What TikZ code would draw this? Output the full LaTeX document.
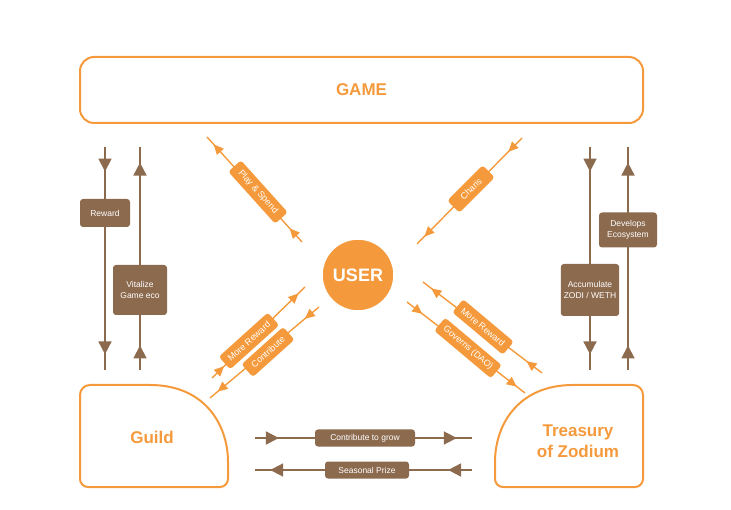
\documentclass[tikz,border=0pt]{standalone}
\usepackage{fontspec}
\setmainfont{Liberation Sans}
\usetikzlibrary{arrows.meta,decorations.markings}
\definecolor{org}{HTML}{F59A3C}
\definecolor{brn}{HTML}{8C6A4E}
\begin{document}
\begin{tikzpicture}[x=1pt,y=-1pt,
  big/.style={text=org,font=\bfseries\fontsize{17}{20}\selectfont},
  lab/.style={fill=#1,text=white,rounded corners=3pt,font=\fontsize{8.5}{10.5}\selectfont,inner sep=3pt,align=center},
  dlab/.style={lab=org,font=\fontsize{9}{10}\selectfont,minimum height=17pt},
  flow/.style={draw=#1,line width=1.8pt,postaction=decorate,decoration={markings,
     mark=at position 0.11 with {\arrow[#1]{Triangle[length=13pt,width=13pt]}},
     mark=at position 0.93 with {\arrow[#1]{Triangle[length=13pt,width=13pt]}}}},
  oflow/.style={draw=org,line width=1.4pt,postaction=decorate,decoration={markings,
     mark=at position 0.13 with {\arrow[org]{Triangle[length=10pt,width=9pt]}},
     mark=at position 0.93 with {\arrow[org]{Triangle[length=10pt,width=9pt]}}}}]
\useasboundingbox (0,0) rectangle (731,510);
% GAME
\node[draw=org,line width=2pt,rounded corners=14pt,minimum width=563pt,minimum height=66pt] (game) at (361.5,90) {};
\node[big] (gamet) at (361.5,90) {GAME};
% USER
\node[circle,fill=org,draw=white,line width=1.5pt,minimum size=72pt,text=white,font=\bfseries\fontsize{18}{20}\selectfont] (user) at (358,275) {USER};
% Guild
\draw[draw=org,line width=2pt,rounded corners=10pt] (80,440) -- (80,385) -- (140,385)
   [sharp corners] .. controls (205,385) and (228,425) .. (228,462) [rounded corners=8pt] -- (228,487) -- (80,487) -- (80,430);
\node[big] (guild) at (152,437) {Guild};
% Treasury
\draw[draw=org,line width=2pt,rounded corners=10pt] (643,440) -- (643,385) -- (583,385)
   [sharp corners] .. controls (518,385) and (495,425) .. (495,462) [rounded corners=8pt] -- (495,487) -- (643,487) -- (643,430);
\node[big,align=center,font=\bfseries\fontsize{17}{21}\selectfont] (treas) at (578,441) {Treasury\\of Zodium};
% left verticals
\coordinate (l1a) at (105,147); \coordinate (l1b) at (105,370);
\coordinate (l2a) at (140,370); \coordinate (l2b) at (140,147);
\draw[flow=brn] (l1a) -- (l1b);
\draw[flow=brn] (l2a) -- (l2b);
\node[lab=brn,minimum width=50pt,minimum height=28pt] (rew) at (105,213) {Reward};
\node[lab=brn,minimum width=54pt,minimum height=50pt] (vit) at (140,290) {Vitalize\\Game eco};
% right verticals
\coordinate (r1a) at (590,147); \coordinate (r1b) at (590,370);
\coordinate (r2a) at (628,370); \coordinate (r2b) at (628,147);
\draw[flow=brn] (r1a) -- (r1b);
\draw[flow=brn] (r2a) -- (r2b);
\node[lab=brn,minimum width=58pt,minimum height=52pt] (acc) at (590,290) {Accumulate\\ZODI / WETH};
\node[lab=brn,minimum width=58pt,minimum height=35pt] (dev) at (628,230) {Develops\\Ecosystem};
% bottom
\coordinate (b1a) at (255,438); \coordinate (b1b) at (472,438);
\coordinate (b2a) at (472,470); \coordinate (b2b) at (255,470);
\draw[flow=brn] (b1a) -- (b1b);
\draw[flow=brn] (b2a) -- (b2b);
\node[lab=brn,minimum width=100pt,minimum height=17pt] (cg) at (365,438) {Contribute to grow};
\node[lab=brn,minimum width=84pt,minimum height=17pt] (sp) at (367,470) {Seasonal Prize};
% diagonals
\coordinate (ps1) at (302,242); \coordinate (ps2) at (207,137);
\draw[oflow] (ps1) -- (ps2);
\node[dlab,rotate=-48,minimum width=70pt] (psl) at (258,192) {Play \& Spend};
\coordinate (ch1) at (522,138); \coordinate (ch2) at (417,244);
\draw[oflow] (ch1) -- (ch2);
\node[dlab,rotate=45,minimum width=50pt] (chl) at (471,189) {Charis};
\coordinate (ml1) at (212,378); \coordinate (ml2) at (305,287);
\draw[oflow] (ml1) -- (ml2);
\node[dlab,rotate=42,minimum width=66pt] (mll) at (249,341) {More Reward};
\coordinate (cl1) at (319,307); \coordinate (cl2) at (210,398);
\draw[oflow] (cl1) -- (cl2);
\node[dlab,rotate=42,minimum width=56pt] (cll) at (268,352) {Contribute};
\coordinate (mr1) at (542,373); \coordinate (mr2) at (423,282);
\draw[oflow] (mr1) -- (mr2);
\node[dlab,rotate=-40,minimum width=66pt] (mrl) at (483,327) {More Reward};
\coordinate (gv1) at (407,302); \coordinate (gv2) at (525,393);
\draw[oflow] (gv1) -- (gv2);
\node[dlab,rotate=-40,minimum width=74pt] (gvl) at (468,348) {Governs (DAO)};
\end{tikzpicture}
\end{document}
